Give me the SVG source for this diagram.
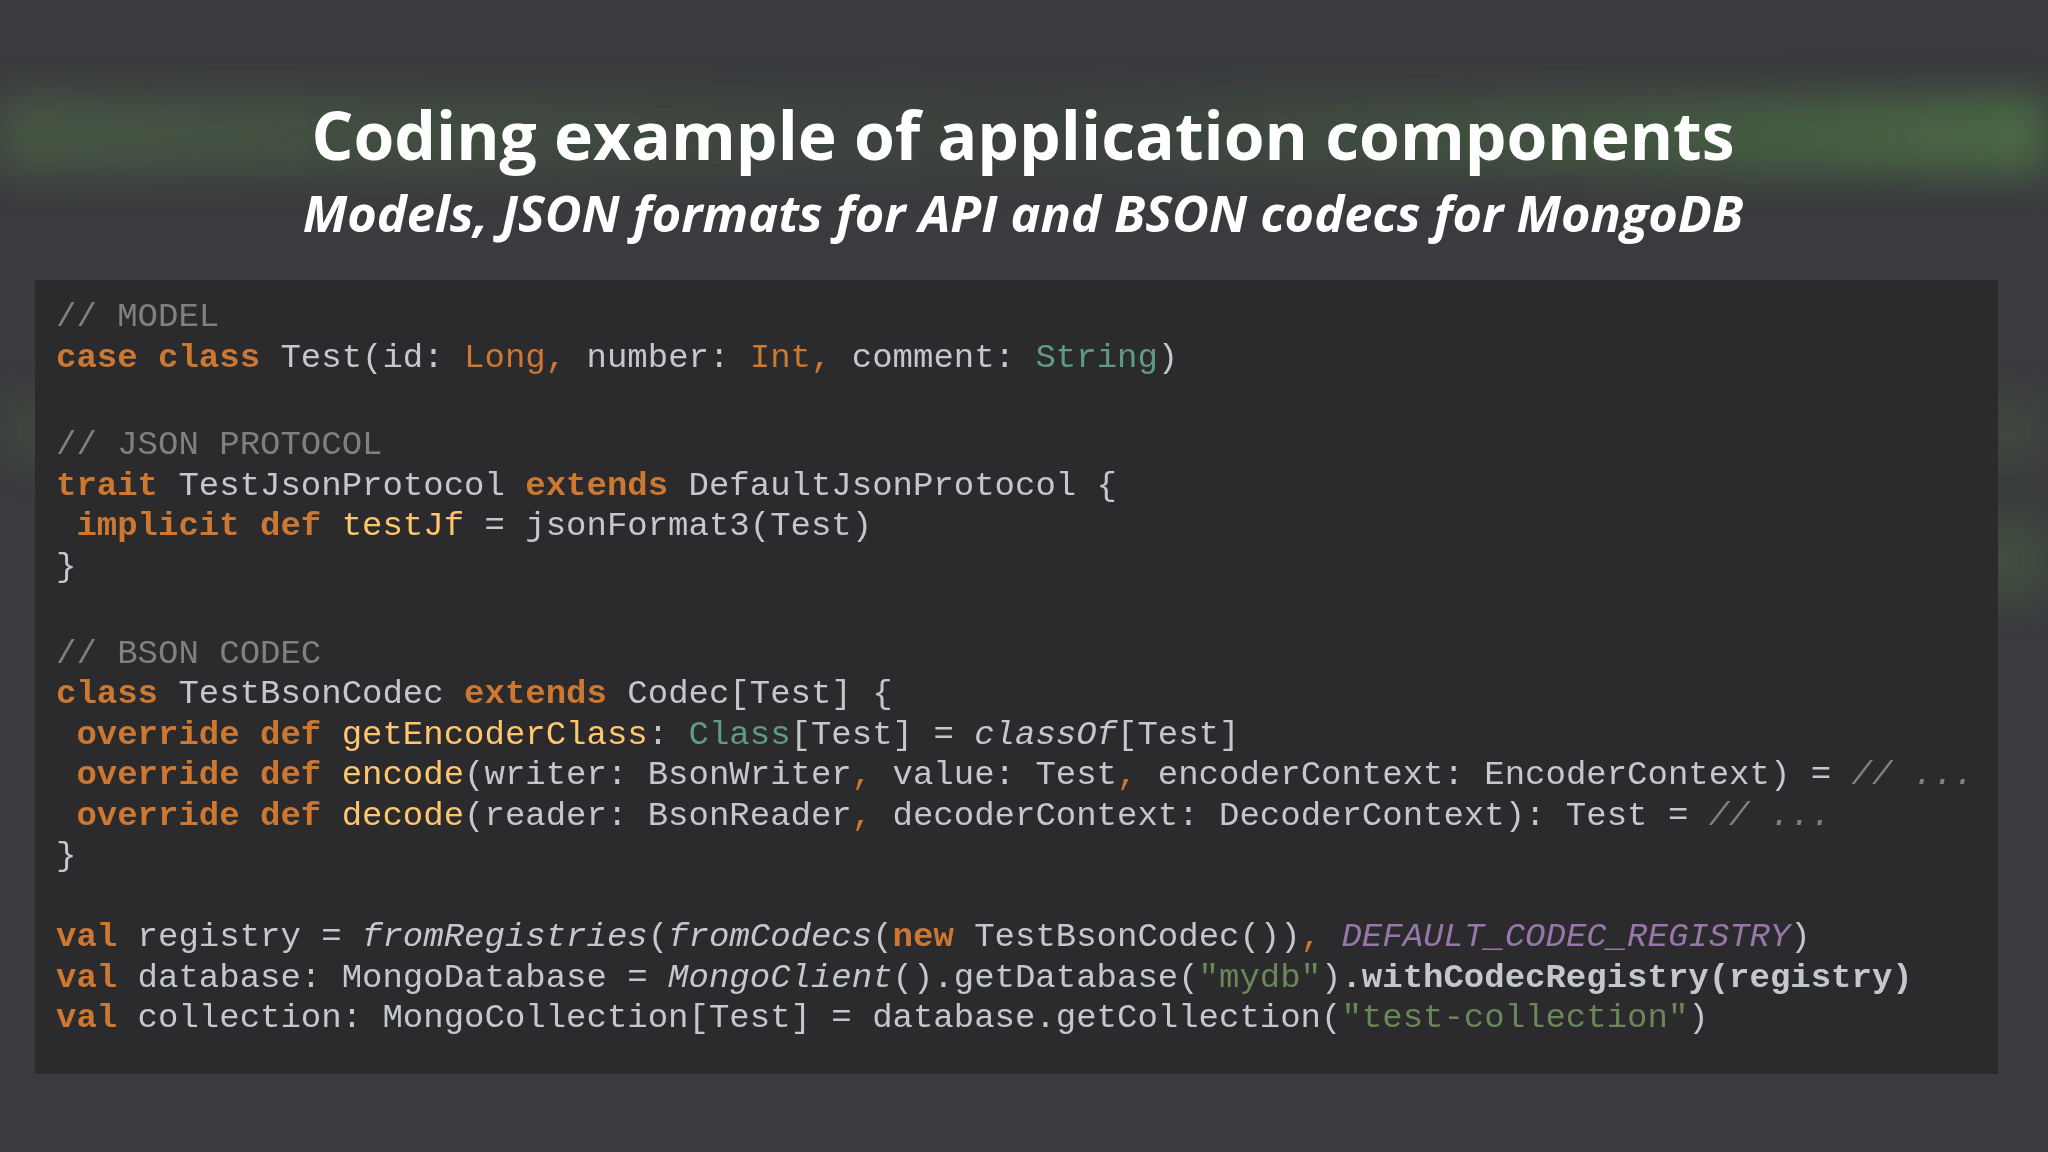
<svg xmlns="http://www.w3.org/2000/svg" width="2048" height="1152" viewBox="0 0 2048 1152">
<defs>
<linearGradient id="streak" x1="0" y1="0" x2="1" y2="0">
<stop offset="0" stop-color="#5a8a4a" stop-opacity="0.35"/>
<stop offset="0.5" stop-color="#4a7a3a" stop-opacity="0.1"/>
<stop offset="1" stop-color="#5ca04a" stop-opacity="0.45"/>
</linearGradient>
<filter id="blur" x="-10%" y="-100%" width="120%" height="300%"><feGaussianBlur stdDeviation="18"/></filter>
<style>
.code{font-family:"Liberation Mono","DejaVu Sans Mono",monospace;font-size:34px;fill:#c4c8cc;white-space:pre}
.c{fill:#7f8080}
.k{fill:#cc7832;font-weight:bold}
.o{fill:#cc7832}
.t{fill:#5f9a88}
.f{fill:#ffc66d}
.i{font-style:italic}
.s{fill:#6a8759}
.p{fill:#9876aa;font-style:italic}
.b{font-weight:bold}
.title{font-family:"Open Sans","Noto Sans",sans-serif;font-weight:bold;fill:#ffffff;text-anchor:middle}
</style>
</defs>
<rect width="2048" height="1152" fill="#3b3b3f"/>
<g filter="url(#blur)">
<rect x="0" y="95" width="2048" height="80" fill="url(#streak)"/>
<rect x="0" y="400" width="2048" height="60" fill="#4a6a40" opacity="0.25"/>
<rect x="1700" y="520" width="348" height="80" fill="#4a7a3a" opacity="0.3"/>
</g>
<g id="title">
<text class="title" x="1023" y="160" font-size="66">Coding example of application components</text>
<text class="title" x="1023" y="232" font-size="50.5" font-style="italic">Models, JSON formats for API and BSON codecs for MongoDB</text>
</g>
<g id="panel">
<rect x="35" y="280" width="1963" height="794" fill="#2b2b2d"/>
<text class="code" xml:space="preserve">
<tspan x="56" y="326" class="c">// MODEL</tspan>
<tspan x="56" y="367"><tspan class="k">case class</tspan> Test(id: <tspan class="o">Long,</tspan> number: <tspan class="o">Int,</tspan> comment: <tspan class="t">String</tspan>)</tspan>
<tspan x="56" y="454" class="c">// JSON PROTOCOL</tspan>
<tspan x="56" y="495"><tspan class="k">trait</tspan> TestJsonProtocol <tspan class="k">extends</tspan> DefaultJsonProtocol {</tspan>
<tspan x="56" y="535"> <tspan class="k">implicit def</tspan> <tspan class="f">testJf</tspan> = jsonFormat3(Test)</tspan>
<tspan x="56" y="576">}</tspan>
<tspan x="56" y="663" class="c">// BSON CODEC</tspan>
<tspan x="56" y="703"><tspan class="k">class</tspan> TestBsonCodec <tspan class="k">extends</tspan> Codec[Test] {</tspan>
<tspan x="56" y="744"> <tspan class="k">override def</tspan> <tspan class="f">getEncoderClass</tspan>: <tspan class="t">Class</tspan>[Test] = <tspan class="i">classOf</tspan>[Test]</tspan>
<tspan x="56" y="784"> <tspan class="k">override def</tspan> <tspan class="f">encode</tspan>(writer: BsonWriter<tspan class="o">,</tspan> value: Test<tspan class="o">,</tspan> encoderContext: EncoderContext) = <tspan class="c i">// ...</tspan></tspan>
<tspan x="56" y="825"> <tspan class="k">override def</tspan> <tspan class="f">decode</tspan>(reader: BsonReader<tspan class="o">,</tspan> decoderContext: DecoderContext): Test = <tspan class="c i">// ...</tspan></tspan>
<tspan x="56" y="865">}</tspan>
<tspan x="56" y="946"><tspan class="k">val</tspan> registry = <tspan class="i">fromRegistries</tspan>(<tspan class="i">fromCodecs</tspan>(<tspan class="k">new</tspan> TestBsonCodec())<tspan class="o">,</tspan> <tspan class="p">DEFAULT_CODEC_REGISTRY</tspan>)</tspan>
<tspan x="56" y="987"><tspan class="k">val</tspan> database: MongoDatabase = <tspan class="i">MongoClient</tspan>().getDatabase(<tspan class="s">"mydb"</tspan>)<tspan class="b">.withCodecRegistry(registry)</tspan></tspan>
<tspan x="56" y="1027"><tspan class="k">val</tspan> collection: MongoCollection[Test] = database.getCollection(<tspan class="s">"test-collection"</tspan>)</tspan>
</text>
</g>
</svg>
